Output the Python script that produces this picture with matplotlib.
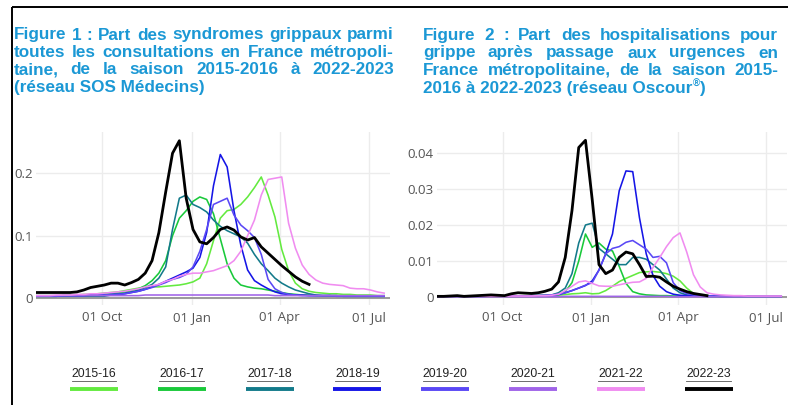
import matplotlib
matplotlib.use("Agg")
import matplotlib.pyplot as plt
import matplotlib.dates as mdates
import pandas as pd

# weekly points, seasons aligned on 2022-23 calendar
weeks = pd.date_range("2022-07-25", periods=52, freq="7D")

seasons = ["2015-16", "2016-17", "2017-18", "2018-19",
           "2019-20", "2020-21", "2021-22", "2022-23"]
season_colors = ["#63ea3f", "#19c93a", "#137a8a", "#1515e6",
                 "#5a48f5", "#a064e8", "#f08cf0", "#000000"]

# Figure 1 : SOS Medecins
sos_2015_16 = [0.004, 0.004, 0.004, 0.004, 0.005, 0.005, 0.005, 0.006, 0.006, 0.007, 0.008,
               0.009, 0.010, 0.012, 0.014, 0.016, 0.017, 0.018, 0.018, 0.019, 0.020, 0.021,
               0.023, 0.026, 0.032, 0.055, 0.092, 0.128, 0.140, 0.142, 0.150, 0.162, 0.177,
               0.194, 0.165, 0.130, 0.078, 0.044, 0.024, 0.015, 0.011, 0.009, 0.008, 0.007,
               0.007, 0.006, 0.006, 0.005, 0.005, 0.005, 0.004, 0.004]
sos_2016_17 = [0.003, 0.003, 0.003, 0.003, 0.004, 0.004, 0.004, 0.005, 0.005, 0.006, 0.006,
               0.007, 0.008, 0.010, 0.012, 0.015, 0.020,
               0.028, 0.040, 0.060, 0.100, 0.128, 0.140, 0.155, 0.162, 0.158, 0.135, 0.095,
               0.055, 0.032, 0.021, 0.018, 0.016, 0.015, 0.013, 0.011, 0.009, 0.007, 0.006,
               0.005, 0.005, 0.004, 0.004, 0.004, 0.004, 0.003, 0.003, 0.003, 0.003, 0.003,
               0.003, 0.003]
sos_2017_18 = [0.003, 0.003, 0.003, 0.003, 0.003, 0.003, 0.003, 0.003, 0.003, 0.003, 0.003,
               0.005, 0.006, 0.008, 0.010, 0.013, 0.017,
               0.022, 0.032, 0.050, 0.110, 0.160, 0.165, 0.150, 0.145, 0.138, 0.125, 0.115,
               0.108, 0.103, 0.098, 0.088, 0.070, 0.055, 0.044, 0.032, 0.024, 0.018, 0.013,
               0.010, 0.007, 0.005, 0.004, 0.004, 0.003, 0.003, 0.003, 0.003, 0.003, 0.003,
               0.003, 0.003]
sos_2018_19 = [0.003, 0.003, 0.003, 0.003, 0.004, 0.004, 0.004, 0.004, 0.005, 0.005, 0.005,
               0.006, 0.006,
               0.007, 0.009, 0.011, 0.014, 0.018, 0.022, 0.027, 0.032,
               0.037, 0.042, 0.048, 0.065, 0.105, 0.180, 0.230, 0.210, 0.140, 0.085, 0.045,
               0.028, 0.021, 0.015, 0.010, 0.007, 0.006, 0.005, 0.005, 0.004, 0.004, 0.004,
               0.004, 0.004, 0.003, 0.003, 0.003, 0.003, 0.003, 0.003, 0.003]
sos_2019_20 = [0.003, 0.003, 0.003, 0.003, 0.004, 0.004, 0.004, 0.004, 0.005, 0.005, 0.005,
               0.006, 0.006,
               0.007, 0.009, 0.011, 0.014, 0.017, 0.021, 0.025, 0.030,
               0.033, 0.038, 0.050, 0.075, 0.110, 0.150, 0.155, 0.160, 0.133, 0.117, 0.108,
               0.097, 0.070, 0.030, 0.015, 0.009, 0.006, 0.005, 0.004, 0.004, 0.004, 0.004,
               0.004, 0.003, 0.003, 0.003, 0.003, 0.003, 0.003, 0.003, 0.003]
sos_2020_21 = [0.004, 0.004, 0.004, 0.004, 0.004, 0.004, 0.004, 0.004, 0.004, 0.004, 0.004,
               0.004, 0.004, 0.004, 0.004, 0.004, 0.005, 0.005, 0.005, 0.005, 0.005, 0.005,
               0.005, 0.005, 0.005, 0.005, 0.005, 0.005, 0.005, 0.005, 0.005, 0.005, 0.005,
               0.005, 0.005, 0.004, 0.004, 0.004, 0.004, 0.004, 0.004, 0.004, 0.004, 0.004,
               0.004, 0.004, 0.004, 0.004, 0.004, 0.004, 0.004, 0.004]
sos_2021_22 = [0.004, 0.004, 0.004, 0.005, 0.005, 0.005, 0.006, 0.006, 0.007, 0.007, 0.008,
               0.009, 0.010, 0.011, 0.013, 0.015, 0.018, 0.020,
               0.022, 0.027, 0.030, 0.035, 0.038, 0.040, 0.040, 0.042, 0.044, 0.048, 0.052,
               0.060, 0.075, 0.100, 0.125, 0.165, 0.190, 0.192, 0.194, 0.120, 0.080, 0.053,
               0.038, 0.029, 0.024, 0.022, 0.021, 0.020, 0.016, 0.015, 0.015, 0.013, 0.010,
               0.008]
sos_2022_23 = [0.009, 0.009, 0.009, 0.009, 0.009, 0.009, 0.010, 0.013, 0.017, 0.019, 0.021,
               0.024, 0.024, 0.021, 0.025, 0.030, 0.040, 0.060, 0.105, 0.170, 0.232, 0.252,
               0.160, 0.110, 0.090, 0.087, 0.097, 0.110, 0.114, 0.109, 0.098, 0.093, 0.097,
               0.082, 0.072, 0.062, 0.052, 0.043, 0.034, 0.027, 0.022]

# Figure 2 : Oscour
osc_2015_16 = [0.0002, 0.0002, 0.0002, 0.0002, 0.0002, 0.0002, 0.0002, 0.0003, 0.0003, 0.0003,
               0.0003, 0.0003, 0.0003, 0.0004, 0.0004, 0.0004, 0.0004, 0.0004,
               0.0005, 0.0007, 0.0009, 0.0010, 0.0012, 0.0009, 0.0010, 0.0018, 0.0030, 0.0043,
               0.0052, 0.0060, 0.0068, 0.0070, 0.0071, 0.0069, 0.0065, 0.0058, 0.0045, 0.0025,
               0.0010, 0.0005, 0.0004, 0.0003, 0.0003, 0.0003, 0.0002, 0.0002, 0.0002, 0.0002,
               0.0002, 0.0002, 0.0002, 0.0002]
osc_2016_17 = [0.0002, 0.0002, 0.0002, 0.0002, 0.0002, 0.0002, 0.0002, 0.0002, 0.0003, 0.0003,
               0.0003, 0.0003, 0.0003, 0.0003, 0.0004, 0.0004, 0.0005, 0.0006,
               0.0008, 0.0015, 0.0040, 0.0100, 0.0175, 0.0138, 0.0150, 0.0133, 0.0128, 0.0085,
               0.0038, 0.0015, 0.0009, 0.0006, 0.0005, 0.0004, 0.0004, 0.0003, 0.0003, 0.0003,
               0.0003, 0.0003, 0.0002, 0.0002, 0.0002, 0.0002, 0.0002, 0.0002, 0.0002, 0.0002,
               0.0002, 0.0002, 0.0002, 0.0002]
osc_2017_18 = [0.0002, 0.0002, 0.0002, 0.0002, 0.0002, 0.0002, 0.0002, 0.0002, 0.0002, 0.0003,
               0.0003, 0.0003, 0.0003, 0.0003, 0.0004, 0.0004, 0.0004,
               0.0006, 0.0012, 0.0025, 0.0065, 0.0150, 0.0200, 0.0205, 0.0135, 0.0120, 0.0105,
               0.0090, 0.0090, 0.0110, 0.0110, 0.0105, 0.0090, 0.0075, 0.0050, 0.0025, 0.0012,
               0.0006, 0.0004, 0.0003, 0.0003, 0.0003, 0.0002, 0.0002, 0.0002, 0.0002, 0.0002,
               0.0002, 0.0002, 0.0002, 0.0002, 0.0002]
osc_2018_19 = [0.0002, 0.0002, 0.0002, 0.0002, 0.0002, 0.0002, 0.0002, 0.0002, 0.0003, 0.0003,
               0.0003, 0.0003, 0.0003, 0.0003, 0.0004, 0.0004, 0.0004, 0.0005,
               0.0007, 0.0012, 0.0018, 0.0025, 0.0032, 0.0045, 0.0075, 0.0120, 0.0175, 0.0295,
               0.0350, 0.0348, 0.0220, 0.0120, 0.0060, 0.0030, 0.0015, 0.0008, 0.0005, 0.0004,
               0.0003, 0.0003, 0.0002, 0.0002, 0.0002, 0.0002, 0.0002, 0.0002, 0.0002, 0.0002,
               0.0002, 0.0002, 0.0002, 0.0002]
osc_2019_20 = [0.0002, 0.0002, 0.0002, 0.0002, 0.0002, 0.0002, 0.0002, 0.0002, 0.0003, 0.0003,
               0.0003, 0.0003, 0.0003, 0.0003, 0.0004, 0.0004, 0.0005, 0.0006,
               0.0008, 0.0012, 0.0018, 0.0025, 0.0033, 0.0040, 0.0075, 0.0120, 0.0135, 0.0140,
               0.0152, 0.0157, 0.0145, 0.0133, 0.0110, 0.0113, 0.0095, 0.0040, 0.0018, 0.0010,
               0.0006, 0.0004, 0.0003, 0.0003, 0.0002, 0.0002, 0.0002, 0.0002, 0.0002, 0.0002,
               0.0002, 0.0002, 0.0002, 0.0002]
osc_2020_21 = [0.0001, 0.0001, 0.0001, 0.0001, 0.0001, 0.0001, 0.0001, 0.0001, 0.0001, 0.0001,
               0.0001, 0.0001, 0.0001, 0.0001, 0.0001, 0.0001, 0.0001, 0.0001, 0.0001, 0.0002,
               0.0002, 0.0002, 0.0002, 0.0002, 0.0002, 0.0002, 0.0002, 0.0002, 0.0002, 0.0002,
               0.0002, 0.0002, 0.0002, 0.0002, 0.0002, 0.0001, 0.0001, 0.0001, 0.0001, 0.0001,
               0.0001, 0.0001, 0.0001, 0.0001, 0.0001, 0.0001, 0.0001, 0.0001, 0.0001, 0.0001,
               0.0001, 0.0001]
osc_2021_22 = [0.0002, 0.0002, 0.0002, 0.0002, 0.0002, 0.0002, 0.0002, 0.0002, 0.0002, 0.0003,
               0.0003, 0.0003, 0.0003, 0.0003, 0.0003, 0.0004, 0.0004, 0.0005,
               0.0008, 0.0018, 0.0030, 0.0042, 0.0045, 0.0038, 0.0031, 0.0030, 0.0030, 0.0034,
               0.0038, 0.0041, 0.0042, 0.0052, 0.0082, 0.0110, 0.0140, 0.0165, 0.0178, 0.0125,
               0.0062, 0.0028, 0.0012, 0.0008, 0.0006, 0.0005, 0.0004, 0.0004, 0.0003, 0.0003,
               0.0003, 0.0003, 0.0003, 0.0003]
osc_2022_23 = [0.0002, 0.0002, 0.0003, 0.0004, 0.0002, 0.0003, 0.0004, 0.0005, 0.0006, 0.0005,
               0.0004, 0.0009, 0.0012, 0.0011, 0.0010, 0.0012, 0.0016, 0.0022, 0.0042, 0.0110,
               0.0240, 0.0415, 0.0435, 0.0270, 0.0090, 0.0065, 0.0075, 0.0110, 0.0125, 0.0120,
               0.0090, 0.0057, 0.0058, 0.0055, 0.0042, 0.0030, 0.0022, 0.0015, 0.0010, 0.0007,
               0.0004]

sos_series = [sos_2015_16, sos_2016_17, sos_2017_18, sos_2018_19,
              sos_2019_20, sos_2020_21, sos_2021_22, sos_2022_23]
osc_series = [osc_2015_16, osc_2016_17, osc_2017_18, osc_2018_19,
              osc_2019_20, osc_2020_21, osc_2021_22, osc_2022_23]

sos_yticks = [0, 0.1, 0.2]
osc_yticks = [0, 0.01, 0.02, 0.03, 0.04]

W, H = 788, 405
TITLE_COLOR = "#1b98d5"
fig = plt.figure(figsize=(W / 100, H / 100), dpi=100, facecolor="white")
renderer = fig.canvas.get_renderer()


def fx(x):
    return x / W


def fy(y):
    return 1 - y / H


def text_width(s, **kw):
    t = fig.text(0, 0, s, **kw)
    w = t.get_window_extent(renderer).width
    t.remove()
    return w


title_kw = dict(fontsize=10, fontweight="bold", family="Liberation Sans", color=TITLE_COLOR)
# size the title font so the first line of figure 1 fills its column
nat = text_width("Figure 1 : Part des syndromes grippaux parmi", **title_kw)
title_kw["fontsize"] = 10 * 376 / nat


def justified(line, x0, x1, y):
    words = line.split(" ")
    widths = [text_width(w, **title_kw) for w in words]
    gap = (x1 - x0 - sum(widths)) / (len(words) - 1)
    x = x0
    for w, wd in zip(words, widths):
        fig.text(fx(x), fy(y), w, ha="left", va="baseline", **title_kw)
        x += wd + gap


def style_axes(ax, ylim, yticks):
    ax.set_xlim(pd.Timestamp("2022-07-25"), pd.Timestamp("2023-07-23"))
    ax.set_ylim(*ylim)
    ax.set_yticks(yticks)
    ax.set_yticklabels(["0"] + [f"{v:g}" for v in yticks[1:]])
    ax.xaxis.set_major_locator(mdates.MonthLocator(bymonth=[1, 4, 7, 10]))
    ax.xaxis.set_major_formatter(mdates.DateFormatter("%d %b"))
    for s in ax.spines.values():
        s.set_visible(False)
    ax.grid(True, color="#ececec", lw=1.0)
    ax.set_axisbelow(True)
    ax.tick_params(length=0, labelsize=9.6, labelcolor="#555555")
    ax.tick_params(axis="x", pad=4.5)
    ax.tick_params(axis="y", pad=2.5)
    for lab in ax.get_xticklabels() + ax.get_yticklabels():
        lab.set_family("Open Sans")
    ax.axhline(0, color="#9a9a9a", lw=1.4, zorder=1)


def draw_series(ax, series):
    for name, col, vals in zip(seasons, season_colors, series):
        lw = 2.0 if name == "2022-23" else 1.15
        ax.plot(weeks[:len(vals)], vals, color=col, lw=lw, zorder=3)


ax1 = fig.add_axes([fx(36), fy(305), fx(390) - fx(36), fy(132) - fy(305)])
draw_series(ax1, sos_series)
style_axes(ax1, (-0.011, 0.266), sos_yticks)

ax2 = fig.add_axes([fx(437), fy(305), fx(787) - fx(437), fy(132) - fy(305)])
draw_series(ax2, osc_series)
style_axes(ax2, (-0.0022, 0.0458), osc_yticks)

# titles (justified paragraphs)
justified("Figure 1 : Part des syndromes grippaux parmi", 13.5, 394, 39.5)
justified("toutes les consultations en France métropoli-", 13.5, 394, 57)
justified("taine, de la saison 2015-2016 à 2022-2023", 13.5, 394, 74.5)
fig.text(fx(13.5), fy(92), "(réseau SOS Médecins)", ha="left", va="baseline", **title_kw)

justified("Figure 2 : Part des hospitalisations pour", 423, 778, 40)
justified("grippe après passage aux urgences en", 423, 778, 57.5)
justified("France métropolitaine, de la saison 2015-", 423, 778, 75)
last = "2016 à 2022-2023 (réseau Oscour"
fig.text(fx(423), fy(92.5), last, ha="left", va="baseline", **title_kw)
xr = 423 + text_width(last, **title_kw)
fig.text(fx(xr + 0.3), fy(86.5), "®", ha="left", va="baseline",
         fontsize=7, fontweight="bold", family="Liberation Sans", color=TITLE_COLOR)
fig.text(fx(xr + 6.5), fy(92.5), ")", ha="left", va="baseline", **title_kw)

# overlay for frame and legend
ov = fig.add_axes([0, 0, 1, 1], zorder=5)
ov.set_xlim(0, W)
ov.set_ylim(H, 0)
ov.axis("off")
ov.plot([12.5, 12.5], [6.5, H], color="black", lw=1.4, solid_capstyle="butt")
ov.plot([12, W], [6.5, 6.5], color="black", lw=1.4, solid_capstyle="butt")

leg_kw = dict(fontsize=8.8, family="Liberation Sans", color="#222222")
for i, (name, col) in enumerate(zip(seasons, season_colors)):
    x0 = 70 + 87.8 * i
    xc = x0 + 24
    ov.text(xc, 377, name, ha="center", va="baseline", **leg_kw)
    tw = text_width(name, **leg_kw)
    ov.plot([xc - tw / 2, xc + tw / 2], [380.5, 380.5], color="#555555", lw=0.6)
    ov.plot([x0, x0 + 48], [388.5, 388.5], color=col, lw=2.8, solid_capstyle="butt")

fig.savefig("out.png", dpi=100, facecolor="white")
